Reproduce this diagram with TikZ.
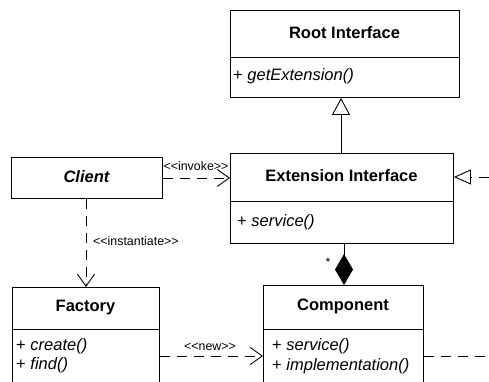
\documentclass[tikz,border=0pt]{standalone}
\usepackage{fontspec}
\setmainfont{Liberation Sans}
\usetikzlibrary{arrows.meta}
\newcommand{\ltlt}{<\kern0pt<}
\newcommand{\gtgt}{>\kern0pt>}
\begin{document}
\begin{tikzpicture}[x=1pt,y=-1pt,
  umlbox/.style={draw,line width=0.9pt,rectangle,inner sep=0pt,anchor=north west},
  divider/.style={line width=0.9pt},
  title/.style={font=\fontsize{16.5}{18}\selectfont\bfseries,inner sep=0pt},
  meth/.style={font=\fontsize{16.5}{18}\selectfont,inner sep=0pt,anchor=west},
  lbl/.style={font=\fontsize{12.4}{14}\selectfont,inner sep=0pt},
  conn/.style={line width=0.9pt},
  dep/.style={conn,dash pattern=on 10pt off 7pt},
  barb/.style={-{Straight Barb[length=12pt,width=17pt,line width=0.9pt]}},
  gen/.style={-{Triangle[length=17pt,width=18pt,fill=white,line width=0.9pt]}},
  genr/.style={-{Triangle[length=17pt,width=15pt,fill=white,line width=0.9pt]}},
  comp/.style={{Diamond[length=31pt,width=18pt]}-}
]
\useasboundingbox (0,0) rectangle (489,381);
\clip (0,0) rectangle (489,381);
% boxes
\node[umlbox,minimum width=229pt,minimum height=87pt] (root) at (230,10) {};
\node[umlbox,minimum width=223pt,minimum height=90pt] (ext) at (230,153) {};
\node[umlbox,minimum width=151pt,minimum height=41pt] (client) at (11,157) {};
\node[umlbox,minimum width=147pt,minimum height=110pt] (factory) at (12,287) {};
\node[umlbox,minimum width=160pt,minimum height=112pt] (compo) at (263,285) {};
% dividers
\draw[divider] (root.west |- 0,57) -- (root.east |- 0,57);
\draw[divider] (ext.west |- 0,201) -- (ext.east |- 0,201);
\draw[divider] (factory.west |- 0,329) -- (factory.east |- 0,329);
\draw[divider] (compo.west |- 0,329) -- (compo.east |- 0,329);
% texts
\node[title] (rootT) at (344.5,33) {Root Interface};
\node[meth] (rootM) at (233,76) {+ \itshape getExtension()};
\node[title] (extT) at (341.5,176) {Extension Interface};
\node[meth] (extM) at (237,222) {+ \itshape service()};
\node[title,font=\fontsize{16.5}{18}\selectfont\bfseries\itshape] (clientT) at (86.5,177) {Client};
\node[title] (factT) at (85.5,308) {Factory};
\node[meth] (factM1) at (16,346) {+ \itshape create()};
\node[meth] (factM2) at (16,365) {+ \itshape find()};
\node[title] (compT) at (343,306) {Component};
\node[meth] (compM1) at (272,346) {+ \itshape service()};
\node[meth] (compM2) at (272,366) {+ \itshape implementation()};
% coordinates
\coordinate (newrow) at (0,356);
\coordinate (extright) at (489,177);
\coordinate (compright) at (489,356);
% connectors
\draw[conn,gen] (ext.north -| 341,0) -- (root.south -| 341,0);
\draw[dep,genr] (extright) -- (ext.east |- extright);
\draw[dep,barb] (client.east) -- (ext.west |- client.east);
\node[lbl] (invokeL) at (196,166) {\ltlt invoke\gtgt};
\draw[dep,barb] (client.south -| 86,0) -- (factory.north -| 86,0);
\node[lbl,anchor=west] (instL) at (93,241) {\ltlt instantiate\gtgt};
\draw[conn,comp] (compo.north -| 344,0) -- (ext.south -| 344,0);
\node[lbl] (star) at (328,262) {*};
\draw[dep,barb] (factory.east |- newrow) -- (compo.west |- newrow);
\node[lbl] (newL) at (210,347) {\ltlt new\gtgt};
\draw[dep] (compo.east |- compright) -- (compright);
\end{tikzpicture}
\end{document}
